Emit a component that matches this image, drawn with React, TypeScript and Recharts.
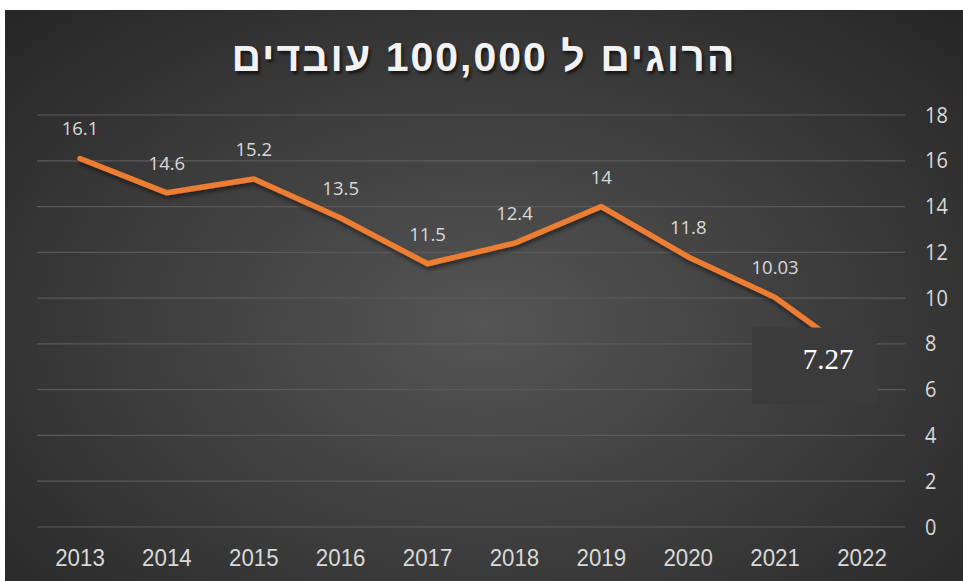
import { LineChart, Line, XAxis, YAxis, CartesianGrid, LabelList } from 'recharts';

const years = ['2013', '2014', '2015', '2016', '2017', '2018', '2019', '2020', '2021', '2022'];
const deaths = [16.1, 14.6, 15.2, 13.5, 11.5, 12.4, 14, 11.8, 10.03, 7.27];
const yTicks = [0, 2, 4, 6, 8, 10, 12, 14, 16, 18];

const data = years.map((year, i) => ({ year, value: deaths[i] }));

const tickFont = '"Liberation Sans", Arial, sans-serif';

function XTick(props: any) {
  const { x, y, payload } = props;
  return (
    <text
      transform={`translate(${x},${y + 39}) scale(0.97,1.05)`}
      textAnchor="middle"
      fill="#d9d9d9"
      fontSize={23}
      fontFamily={tickFont}
    >
      {payload.value}
    </text>
  );
}

function YTick(props: any) {
  const { x, y, payload } = props;
  return (
    <text
      transform={`translate(${x},${y + 7.5}) scale(0.95,1.05)`}
      textAnchor="start"
      fill="#d9d9d9"
      fontSize={21}
      fontFamily='"Open Sans", "Noto Sans", sans-serif'
    >
      {payload.value}
    </text>
  );
}

function PointLabel(props: any) {
  const { x, y, value, index } = props;
  if (index === deaths.length - 1) {
    return (
      <g>
        <rect x={x - 110} y={y - 33} width={125} height={76} fill="#3b3b3b" />
        <text
          x={x - 34}
          y={y + 8}
          textAnchor="middle"
          fill="#ffffff"
          fontSize={29}
          fontFamily='"Liberation Serif", "Times New Roman", serif'
        >
          {value}
        </text>
      </g>
    );
  }
  return (
    <text
      x={x}
      y={y - 23}
      textAnchor="middle"
      fill="#d9d9d9"
      fontSize={18.5}
      fontFamily='"Open Sans", "Noto Sans", sans-serif'
    >
      {value}
    </text>
  );
}

export default function App() {
  return (
    <div style={{ width: 963, height: 581, background: '#fff', position: 'relative' }}>
      <style>{`body{margin:0}`}</style>
      <div
        style={{
          position: 'absolute',
          left: 5,
          top: 10,
          width: 958,
          height: 571,
          background: 'radial-gradient(ellipse at 50% 55%, #555555 0%, #404040 45%, #262626 100%)',
        }}
      >
        <div
          style={{
            position: 'absolute',
            top: 24,
            left: 0,
            width: 958,
            textAlign: 'center',
            color: '#f2f2f2',
            fontFamily: '"Liberation Sans", Arial, sans-serif',
            fontWeight: 'bold',
            fontSize: 41,
            letterSpacing: 2,
            textShadow: '2px 3px 3px rgba(0,0,0,0.6)',
          }}
          dir="rtl"
        >
          הרוגים ל 100,000 עובדים
        </div>
        <LineChart
          width={958}
          height={571}
          data={data}
          margin={{ top: 105, right: 0, left: 32, bottom: 0 }}
        >
          <defs>
            <filter id="lineShadow" x="-10%" y="-10%" width="120%" height="130%">
              <feDropShadow dx="1" dy="3" stdDeviation="2" floodColor="#000" floodOpacity="0.5" />
            </filter>
          </defs>
          <CartesianGrid vertical={false} stroke="#5a5a5a" strokeWidth={1.2} />
          <XAxis
            dataKey="year"
            height={54}
            padding={{ left: 43, right: 43 }}
            axisLine={false}
            tickLine={false}
            tickSize={0}
            tickMargin={0}
            tick={<XTick />}
          />
          <YAxis
            orientation="right"
            width={58}
            domain={[0, 18]}
            ticks={yTicks}
            axisLine={false}
            tickLine={false}
            tickSize={0}
            tickMargin={20}
            tick={<YTick />}
          />
          <Line
            type="linear"
            dataKey="value"
            stroke="#ED7D31"
            strokeWidth={5.5}
            strokeLinecap="round"
            strokeLinejoin="round"
            dot={false}
            filter="url(#lineShadow)"
            isAnimationActive={false}
          >
            <LabelList dataKey="value" content={PointLabel} />
          </Line>
        </LineChart>
      </div>
    </div>
  );
}
